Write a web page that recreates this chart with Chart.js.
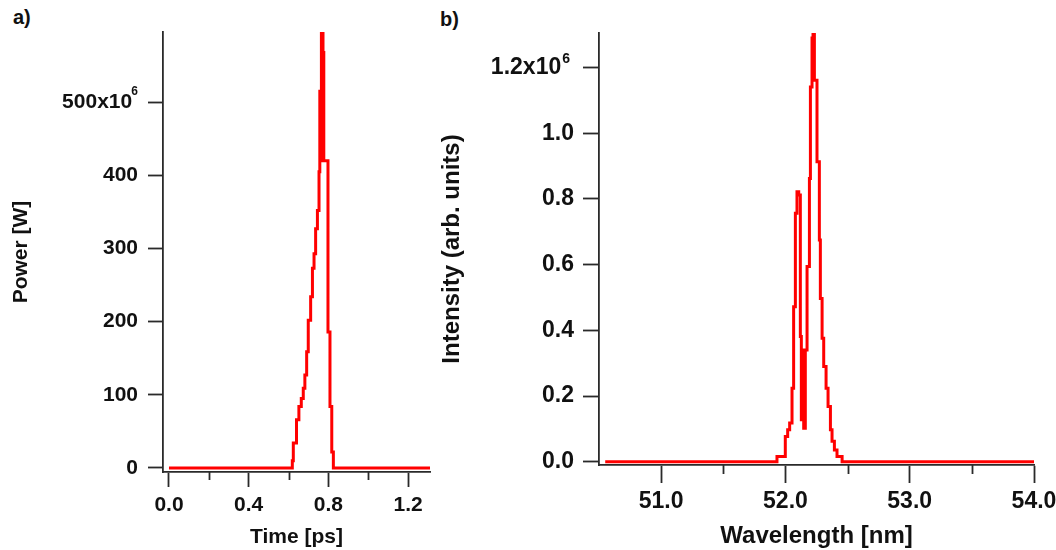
<!DOCTYPE html>
<html>
<head>
<meta charset="utf-8">
<script src="https://cdn.jsdelivr.net/npm/chart.js@4/dist/chart.umd.min.js"></script>
<style>
    body { margin: 0; background: #fff; width: 1056px; height: 550px; position: relative; overflow: hidden; }
    canvas { position: absolute; top: 0; }
    .panel-tag { position: absolute; font: bold 20px "Liberation Sans", Arial, sans-serif; color: #111; }
</style>
</head>
<body>
<div class="panel-tag" style="left:13px; top:6px;">a)</div>
<div class="panel-tag" style="left:440px; top:8px;">b)</div>
<canvas id="chartA" width="440" height="550" style="left:0px"></canvas>
<canvas id="chartB" width="616" height="550" style="left:440px"></canvas>
<script>
// a) pulse in time (power in units of 10^6 W), stepped samples
const timePs = [0.0, 0.619, 0.624, 0.640, 0.652, 0.664, 0.674, 0.682, 0.691, 0.699, 0.711, 0.720, 0.728,
    0.736, 0.745, 0.753, 0.757, 0.761, 0.765, 0.773, 0.777, 0.798, 0.808, 0.817, 0.825, 1.31];
const powerMW = [0, 10, 34, 66, 84, 95, 109, 127, 159, 202, 234, 273, 293,
    327, 352, 405, 515, 420, 596, 568, 420, 186, 84, 22, 0, 0];

const timeTicks = [0.0, 0.4, 0.8, 1.2];
const timeTickLabels = ['0.0', '0.4', '0.8', '1.2'];
const timeMinorTicks = [0.2, 0.6, 1.0];
const powerTicks = [0, 100, 200, 300, 400, 500];
const powerTickLabels = ['0', '100', '200', '300', '400', '500x10 '];

// b) spectrum (intensity in units of 10^6), stepped samples
const wavelengthNm = [50.55, 51.932, 51.999, 52.018, 52.034, 52.053, 52.066, 52.080, 52.093, 52.107, 52.120,
    52.128, 52.139, 52.147, 52.160, 52.174, 52.193, 52.201, 52.214, 52.222, 52.233, 52.254, 52.273, 52.281,
    52.295, 52.308, 52.327, 52.343, 52.362, 52.375, 52.394, 52.415, 52.456, 54.0];
const intensity = [0, 0.016, 0.077, 0.097, 0.118, 0.224, 0.472, 0.756, 0.822, 0.812, 0.381,
    0.128, 0.340, 0.102, 0.340, 0.594, 0.862, 1.141, 1.290, 1.303, 1.161, 0.913, 0.675, 0.497,
    0.376, 0.290, 0.224, 0.168, 0.097, 0.062, 0.036, 0.016, 0, 0];

const wavelengthTicks = [51.0, 52.0, 53.0, 54.0];
const wavelengthTickLabels = ['51.0', '52.0', '53.0', '54.0'];
const wavelengthMinorTicks = [51.5, 52.5, 53.5];
const intensityTicks = [0, 0.2, 0.4, 0.6, 0.8, 1.0, 1.2];
const intensityTickLabels = ['0.0', '0.2', '0.4', '0.6', '0.8', '1.0', '1.2x10  '];

const axisColor = '#2a2a2a';
const textColor = '#111';
const fontFamily = '"Liberation Sans", Arial, sans-serif';

// short unlabeled ticks under the x axis
const minorTicks = {
    id: 'minorTicks',
    afterDraw(chart, args, opts) {
        const scale = chart.scales.x;
        const ctx = chart.ctx;
        ctx.save();
        ctx.strokeStyle = axisColor;
        ctx.lineWidth = 1.8;
        opts.values.forEach(v => {
            const px = Math.round(scale.getPixelForValue(v)) + 0.5;
            ctx.beginPath();
            ctx.moveTo(px, scale.top);
            ctx.lineTo(px, scale.top + opts.length);
            ctx.stroke();
        });
        ctx.restore();
    }
};

// raised exponent after the top y label (Igor style "x10^6")
const exponentLabel = {
    id: 'exponentLabel',
    afterDraw(chart, args, opts) {
        const scale = chart.scales.y;
        const ctx = chart.ctx;
        const x = scale.right - scale.options.grid.tickLength - scale.options.ticks.padding - opts.shift;
        const y = scale.getPixelForValue(opts.value) - opts.rise;
        ctx.save();
        ctx.fillStyle = textColor;
        ctx.font = 'bold ' + opts.size + 'px ' + fontFamily;
        ctx.textAlign = 'right';
        ctx.textBaseline = 'middle';
        ctx.fillText(opts.text, x, y);
        ctx.restore();
    }
};

function makePanel(id, cfg) {
    const points = cfg.xs.map((x, i) => ({x: x, y: cfg.ys[i]}));

    new Chart(document.getElementById(id).getContext('2d'), {
        type: 'line',
        data: {
            datasets: [{
                data: points,
                borderColor: '#ff0000',
                borderWidth: 3,
                pointRadius: 0,
                stepped: 'before',
                fill: false
            }]
        },
        plugins: [minorTicks, exponentLabel],
        options: {
            responsive: false,
            animation: false,
            devicePixelRatio: 1,
            layout: { padding: cfg.padding },
            plugins: {
                legend: { display: false },
                tooltip: { enabled: false },
                minorTicks: { values: cfg.xMinor, length: cfg.xMinorLen },
                exponentLabel: { value: cfg.yTicks[cfg.yTicks.length - 1], text: '6', size: cfg.expSize, rise: cfg.expRise, shift: cfg.expShift }
            },
            scales: {
                x: {
                    type: 'linear',
                    min: cfg.xMin,
                    max: cfg.xMax,
                    border: { display: true, color: axisColor, width: 1.8 },
                    grid: { drawOnChartArea: false, drawTicks: true, tickLength: cfg.xTickLen, tickColor: axisColor, tickWidth: 1.8 },
                    afterBuildTicks: axis => { axis.ticks = cfg.xTicks.map(v => ({value: v})); },
                    afterFit: scale => {
                        scale.height = cfg.xHeight;
                        scale.paddingLeft = 0;
                        scale.paddingRight = 0;
                    },
                    ticks: {
                        autoSkip: false,
                        maxRotation: 0,
                        padding: cfg.xPad,
                        color: textColor,
                        font: { family: fontFamily, size: cfg.tickSize, weight: 'bold' },
                        callback: (value, index) => cfg.xLabels[index]
                    },
                    title: {
                        display: true,
                        text: cfg.xTitle,
                        color: textColor,
                        font: { family: fontFamily, size: cfg.titleSize, weight: 'bold', lineHeight: 1 },
                        padding: { top: 0, bottom: 2 }
                    }
                },
                y: {
                    min: cfg.yMin,
                    max: cfg.yMax,
                    border: { display: true, color: axisColor, width: 1.8 },
                    grid: { drawOnChartArea: false, drawTicks: true, tickLength: cfg.yTickLen, tickColor: axisColor, tickWidth: 1.8 },
                    afterBuildTicks: axis => { axis.ticks = cfg.yTicks.map(v => ({value: v})); },
                    afterFit: scale => {
                        scale.width = cfg.yWidth;
                        scale.paddingTop = 0;
                        scale.paddingBottom = 0;
                    },
                    ticks: {
                        autoSkip: false,
                        padding: cfg.yPad,
                        color: textColor,
                        font: { family: fontFamily, size: cfg.tickSize, weight: 'bold' },
                        callback: (value, index) => cfg.yLabels[index]
                    },
                    title: {
                        display: true,
                        text: cfg.yTitle,
                        color: textColor,
                        font: { family: fontFamily, size: cfg.titleSize, weight: 'bold', lineHeight: 1 },
                        padding: { top: cfg.yTitlePad, bottom: 0 }
                    }
                }
            }
        }
    });
}

makePanel('chartA', {
    xs: timePs, ys: powerMW,
    xMin: -0.03, xMax: 1.31, yMin: -5.5, yMax: 596,
    xTicks: timeTicks, xLabels: timeTickLabels, xMinor: timeMinorTicks,
    yTicks: powerTicks, yLabels: powerTickLabels,
    xTitle: 'Time [ps]', yTitle: 'Power [W]',
    padding: { top: 32, right: 10, left: 0, bottom: 0 },
    yWidth: 163, xHeight: 78,
    xTickLen: 15, xMinorLen: 8, yTickLen: 15,
    xPad: 6, yPad: 10, yTitlePad: 11,
    tickSize: 21, titleSize: 21,
    expSize: 12, expRise: 11, expShift: 0
});

makePanel('chartB', {
    xs: wavelengthNm, ys: intensity,
    xMin: 50.5, xMax: 54.0, yMin: -0.01, yMax: 1.305,
    xTicks: wavelengthTicks, xLabels: wavelengthTickLabels, xMinor: wavelengthMinorTicks,
    yTicks: intensityTicks, yLabels: intensityTickLabels,
    xTitle: 'Wavelength [nm]', yTitle: 'Intensity (arb. units)',
    padding: { top: 33, right: 22, left: 0, bottom: 0 },
    yWidth: 159, xHeight: 85,
    xTickLen: 18, xMinorLen: 9, yTickLen: 16,
    xPad: 5, yPad: 9, yTitlePad: 0,
    tickSize: 23, titleSize: 24,
    expSize: 14, expRise: 8, expShift: 4
});
</script>
</body>
</html>
